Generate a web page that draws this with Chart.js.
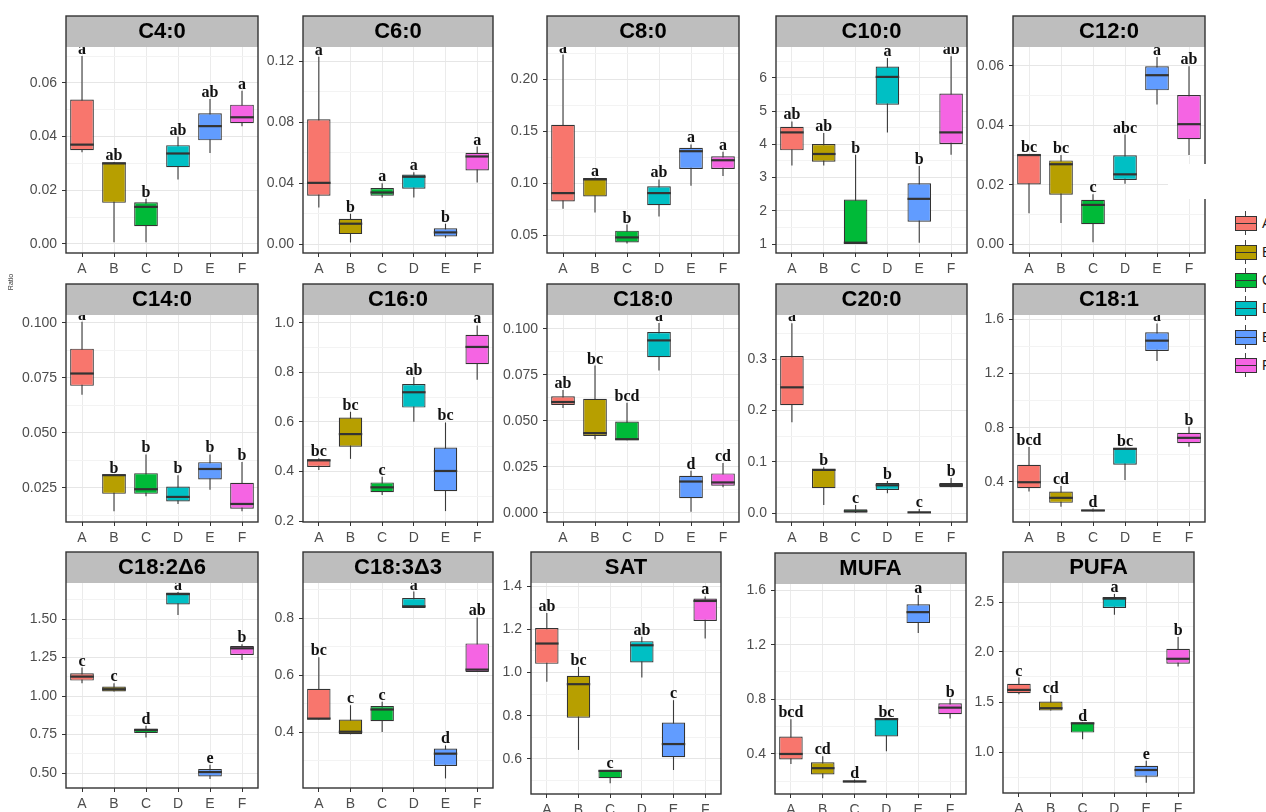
<!DOCTYPE html>
<html><head><meta charset="utf-8">
<script src="https://cdn.jsdelivr.net/npm/chart.js@4"></script>
<style>
html,body{margin:0;padding:0;background:#fff;overflow:hidden;width:1266px;height:812px;}
#wrap{position:relative;width:1266px;height:812px;overflow:hidden;background:#fff;}
#wrap canvas{position:absolute;}
.lg{position:absolute;box-sizing:border-box;}
</style></head><body><div id="wrap"></div>
<script>
// ---------- DATA ----------
const groups = ['A','B','C','D','E','F'];
const groupColors = ['#F8766D','#B79F00','#00BA38','#00BFC4','#619CFF','#F564E3'];

// each entry: [lower whisker, Q1, median, Q3, upper whisker] for A..F
const c4_0 = [[0.0342,0.0349,0.0370,0.0538,0.0700],[0.0006,0.0153,0.0300,0.0304,0.0305],[0.0006,0.0066,0.0138,0.0155,0.0168],[0.0240,0.0286,0.0337,0.0368,0.0400],[0.0339,0.0386,0.0439,0.0487,0.0540],[0.0439,0.0450,0.0472,0.0519,0.0571]];
const c4_0_letters = ['a','ab','b','ab','ab','a'];
const c4_0_ticks = ['0.00','0.02','0.04','0.06'];

const c6_0 = [[0.0240,0.0316,0.0401,0.0818,0.1228],[0.0010,0.0065,0.0133,0.0166,0.0199],[0.0305,0.0316,0.0338,0.0367,0.0399],[0.0305,0.0362,0.0441,0.0456,0.0471],[0.0041,0.0050,0.0076,0.0103,0.0133],[0.0404,0.0482,0.0574,0.0598,0.0639]];
const c6_0_letters = ['a','b','a','a','b','a'];
const c6_0_ticks = ['0.00','0.04','0.08','0.12'];

const c8_0 = [[0.0752,0.0823,0.0903,0.1561,0.2235],[0.0716,0.0871,0.1035,0.1048,0.1050],[0.0419,0.0429,0.0477,0.0542,0.0600],[0.0677,0.0787,0.0903,0.0968,0.1035],[0.0974,0.1135,0.1306,0.1339,0.1371],[0.1068,0.1135,0.1219,0.1258,0.1300]];
const c8_0_letters = ['a','a','b','ab','a','a'];
const c8_0_ticks = ['0.05','0.10','0.15','0.20'];

const c10_0 = [[3.36,3.82,4.36,4.53,4.69],[3.36,3.48,3.71,4.01,4.34],[1.00,1.00,1.04,2.34,3.69],[4.36,5.19,6.03,6.34,6.60],[1.04,1.67,2.36,2.83,3.35],[3.69,4.01,4.36,5.53,6.65]];
const c10_0_letters = ['ab','ab','b','a','b','ab'];
const c10_0_ticks = ['1','2','3','4','5','6'];

const c12_0 = [[0.0104,0.0201,0.0300,0.0302,0.0302],[0.0071,0.0166,0.0269,0.0282,0.0300],[0.0006,0.0067,0.0132,0.0149,0.0168],[0.0203,0.0216,0.0235,0.0299,0.0369],[0.0470,0.0518,0.0569,0.0599,0.0630],[0.0300,0.0353,0.0404,0.0502,0.0599]];
const c12_0_letters = ['bc','bc','c','abc','a','ab'];
const c12_0_ticks = ['0.00','0.02','0.04','0.06'];

const c14_0 = [[0.0674,0.0714,0.0770,0.0883,0.1005],[0.0144,0.0223,0.0308,0.0310,0.0310],[0.0212,0.0223,0.0244,0.0317,0.0402],[0.0177,0.0188,0.0209,0.0256,0.0308],[0.0242,0.0288,0.0336,0.0367,0.0402],[0.0144,0.0155,0.0177,0.0273,0.0368]];
const c14_0_letters = ['a','b','b','b','b','b'];
const c14_0_ticks = ['0.025','0.050','0.075','0.100'];

const c16_0 = [[0.406,0.418,0.445,0.449,0.453],[0.451,0.500,0.551,0.618,0.641],[0.305,0.316,0.336,0.356,0.379],[0.601,0.658,0.720,0.753,0.782],[0.240,0.320,0.402,0.497,0.598],[0.771,0.833,0.903,0.952,0.990]];
const c16_0_letters = ['bc','bc','c','ab','bc','a'];
const c16_0_ticks = ['0.2','0.4','0.6','0.8','1.0'];

const c18_0 = [[0.0570,0.0587,0.0603,0.0634,0.0668],[0.0401,0.0419,0.0434,0.0621,0.0801],[0.0395,0.0395,0.0401,0.0497,0.0599],[0.0774,0.0847,0.0938,0.0984,0.1033],[0.0007,0.0080,0.0171,0.0202,0.0230],[0.0140,0.0148,0.0166,0.0215,0.0271]];
const c18_0_letters = ['ab','bc','bcd','a','d','cd'];
const c18_0_ticks = ['0.000','0.025','0.050','0.075','0.100'];

const c20_0 = [[0.177,0.210,0.245,0.306,0.370],[0.0157,0.0483,0.0841,0.0861,0.0894],[0.0,0.0,0.0033,0.0072,0.0157],[0.0385,0.0450,0.0541,0.0587,0.0626],[0.0,0.0,0.0013,0.0026,0.0078],[0.0502,0.0502,0.0548,0.0587,0.0685]];
const c20_0_letters = ['a','b','c','b','c','b'];
const c20_0_ticks = ['0.0','0.1','0.2','0.3'];

const c18_1 = [[0.329,0.354,0.398,0.527,0.657],[0.217,0.246,0.283,0.329,0.371],[0.183,0.185,0.190,0.195,0.204],[0.415,0.527,0.644,0.652,0.652],[1.292,1.365,1.441,1.502,1.568],[0.659,0.686,0.725,0.762,0.806]];
const c18_1_letters = ['bcd','cd','d','bc','a','b'];
const c18_1_ticks = ['0.4','0.8','1.2','1.6'];

const c18_2d6 = [[1.083,1.100,1.126,1.148,1.185],[1.029,1.029,1.044,1.062,1.083],[0.731,0.759,0.779,0.789,0.807],[1.526,1.595,1.662,1.673,1.675],[0.461,0.478,0.506,0.526,0.554],[1.234,1.267,1.310,1.325,1.336]];
const c18_2d6_letters = ['c','c','d','a','e','b'];
const c18_2d6_ticks = ['0.50','0.75','1.00','1.25','1.50'];

const c18_3d3 = [[0.444,0.444,0.447,0.552,0.662],[0.392,0.392,0.401,0.444,0.494],[0.400,0.438,0.479,0.491,0.506],[0.835,0.835,0.841,0.870,0.893],[0.237,0.281,0.324,0.342,0.353],[0.611,0.611,0.619,0.711,0.802]];
const c18_3d3_letters = ['bc','c','c','a','d','ab'];
const c18_3d3_ticks = ['0.4','0.6','0.8'];

const sat = [[0.957,1.040,1.134,1.206,1.275],[0.642,0.791,0.946,0.985,1.026],[0.488,0.511,0.545,0.549,0.549],[0.977,1.046,1.126,1.145,1.165],[0.549,0.608,0.669,0.769,0.872],[1.157,1.238,1.331,1.342,1.352]];
const sat_letters = ['ab','bc','c','ab','c','a'];
const sat_ticks = ['0.6','0.8','1.0','1.2','1.4'];

const mufa = [[0.327,0.359,0.400,0.528,0.655],[0.223,0.250,0.296,0.339,0.383],[0.191,0.191,0.199,0.206,0.213],[0.419,0.528,0.655,0.659,0.659],[1.285,1.358,1.438,1.496,1.564],[0.659,0.691,0.739,0.771,0.805]];
const mufa_letters = ['bcd','cd','d','bc','a','b'];
const mufa_ticks = ['0.4','0.8','1.2','1.6'];

const pufa = [[1.578,1.588,1.621,1.682,1.745],[1.414,1.414,1.438,1.505,1.571],[1.127,1.194,1.287,1.294,1.294],[2.373,2.440,2.534,2.550,2.580],[0.693,0.753,0.820,0.863,0.913],[1.855,1.882,1.932,2.032,2.149]];
const pufa_letters = ['c','cd','d','a','e','b'];
const pufa_ticks = ['1.0','1.5','2.0','2.5'];

// ---------- LAYOUT (plot rect [left, top, right, bottom], y range) ----------
const panels = [
 {title:'C4:0',   boxes:c4_0,   letters:c4_0_letters,   ticks:c4_0_ticks,   rect:[66,47,258,253],   range:[-0.0034,0.0734]},
 {title:'C6:0',   boxes:c6_0,   letters:c6_0_letters,   ticks:c6_0_ticks,   rect:[303,47,493,253],  range:[-0.0059,0.1292]},
 {title:'C8:0',   boxes:c8_0,   letters:c8_0_letters,   ticks:c8_0_ticks,   rect:[547,47,739,253],  range:[0.0327,0.2308]},
 {title:'C10:0',  boxes:c10_0,  letters:c10_0_letters,  ticks:c10_0_ticks,  rect:[776,47,967,253],  range:[0.73,6.93]},
 {title:'C12:0',  boxes:c12_0,  letters:c12_0_letters,  ticks:c12_0_ticks,  rect:[1013,47,1205,253],range:[-0.003,0.0664]},
 {title:'C14:0',  boxes:c14_0,  letters:c14_0_letters,  ticks:c14_0_ticks,  rect:[66,315,258,522],  range:[0.0095,0.1036]},
 {title:'C16:0',  boxes:c16_0,  letters:c16_0_letters,  ticks:c16_0_ticks,  rect:[303,315,493,522], range:[0.196,1.032]},
 {title:'C18:0',  boxes:c18_0,  letters:c18_0_letters,  ticks:c18_0_ticks,  rect:[547,315,739,522], range:[-0.0049,0.1076]},
 {title:'C20:0',  boxes:c20_0,  letters:c20_0_letters,  ticks:c20_0_ticks,  rect:[776,315,967,522], range:[-0.0175,0.386]},
 {title:'C18:1',  boxes:c18_1,  letters:c18_1_letters,  ticks:c18_1_ticks,  rect:[1013,315,1205,522],range:[0.105,1.63]},
 {title:'C18:2Δ6',boxes:c18_2d6,letters:c18_2d6_letters,ticks:c18_2d6_ticks,rect:[66,583,258,788],  range:[0.4026,1.734]},
 {title:'C18:3Δ3',boxes:c18_3d3,letters:c18_3d3_letters,ticks:c18_3d3_ticks,rect:[303,583,493,788], range:[0.2035,0.923]},
 {title:'SAT',    boxes:sat,    letters:sat_letters,    ticks:sat_ticks,    rect:[531,583,721,794], range:[0.438,1.414]},
 {title:'MUFA',   boxes:mufa,   letters:mufa_letters,   ticks:mufa_ticks,   rect:[775,584,966,794], range:[0.107,1.644]},
 {title:'PUFA',   boxes:pufa,   letters:pufa_letters,   ticks:pufa_ticks,   rect:[1003,583,1194,793],range:[0.59,2.69]}
];
const legendY = [223,252,280,308,337,365];

const wrap = document.getElementById('wrap');
const YW = 60, S = 31, PT = 1, PR = 4, XH = 30;
const FONT = 'Liberation Sans';

function makePlugin(p){
  return {
    id:'boxplot',
    beforeDraw(chart){
      const c = chart.ctx, a = chart.chartArea, t = chart.titleBlock;
      c.save();
      c.fillStyle = '#BEBEBE';
      c.fillRect(a.left, t.top, a.right - a.left, a.top - t.top);
      c.restore();
    },
    beforeDatasetsDraw(chart){
      const c = chart.ctx, meta = chart.getDatasetMeta(0), y = chart.scales.y;
      c.save();
      c.strokeStyle = '#3a3a3a'; c.lineWidth = 1.1;
      p.boxes.forEach((b,i)=>{
        const el = meta.data[i];
        c.beginPath();
        c.moveTo(el.x, y.getPixelForValue(b[0]));
        c.lineTo(el.x, y.getPixelForValue(b[4]));
        c.stroke();
      });
      c.restore();
    },
    afterDatasetsDraw(chart){
      const c = chart.ctx, meta = chart.getDatasetMeta(0), y = chart.scales.y, a = chart.chartArea;
      c.save();
      c.strokeStyle = '#333'; c.lineWidth = 2.2;
      p.boxes.forEach((b,i)=>{
        const el = meta.data[i], w = el.width;
        const py = y.getPixelForValue(b[2]);
        c.beginPath(); c.moveTo(el.x - w/2, py); c.lineTo(el.x + w/2, py); c.stroke();
      });
      c.beginPath(); c.rect(a.left, a.top, a.right - a.left, a.bottom - a.top); c.clip();
      c.fillStyle = '#111';
      c.font = 'bold 16px "Liberation Serif"';
      c.textAlign = 'center'; c.textBaseline = 'alphabetic';
      p.boxes.forEach((b,i)=>{
        const el = meta.data[i];
        c.fillText(p.letters[i], el.x, y.getPixelForValue(b[4]) - 2);
      });
      c.restore();
    },
    afterDraw(chart){
      const c = chart.ctx, a = chart.chartArea, t = chart.titleBlock;
      c.save();
      c.strokeStyle = '#333'; c.lineWidth = 1.4;
      c.strokeRect(a.left, t.top, a.right - a.left, a.bottom - t.top);
      c.restore();
    }
  };
}

function makeChart(p){
  const [L,T,R,B] = p.rect;
  const w = YW + (R - L) + PR, h = PT + S + (B - T) + XH;
  const cv = document.createElement('canvas');
  cv.width = w; cv.height = h;
  cv.style.left = (L - YW) + 'px'; cv.style.top = (T - S - PT) + 'px';
  cv.style.width = w + 'px'; cv.style.height = h + 'px';
  wrap.appendChild(cv);

  const majors = p.ticks.map(Number);
  const step = majors[1] - majors[0];
  const tickObjs = majors.map(v => ({value:v, minor:false}));
  for (let k = -1; k < majors.length + 1; k++) {
    const v = +(majors[0] + (k + 0.5) * step).toFixed(6);
    if (v > p.range[0] && v < p.range[1]) tickObjs.push({value:v, minor:true});
  }
  tickObjs.sort((a,b) => a.value - b.value);

  new Chart(cv, {
    type:'bar',
    data:{
      labels:groups,
      datasets:[{
        data:p.boxes.map(b => [b[1], b[3]]),
        backgroundColor:groupColors,
        borderColor:'#333', borderWidth:1.2, borderSkipped:false,
        barPercentage:0.74, categoryPercentage:1
      }]
    },
    options:{
      responsive:false, animation:false, devicePixelRatio:1,
      layout:{padding:{top:PT, right:PR, left:0, bottom:0}},
      plugins:{
        legend:{display:false}, tooltip:{enabled:false},
        title:{display:true, text:p.title, fullSize:false, color:'#000',
          font:{family:FONT, size:22, weight:'bold', lineHeight:'26px'},
          padding:{top:3, bottom:2}}
      },
      scales:{
        x:{
          offset:true,
          grid:{offset:false, color:'#EBEBEB', lineWidth:1, tickColor:'#333', tickLength:4},
          border:{display:false},
          ticks:{color:'#4D4D4D', font:{family:FONT, size:14}, padding:4, maxRotation:0},
          afterFit:s => { s.height = XH; }
        },
        y:{
          min:p.range[0], max:p.range[1],
          afterBuildTicks:s => { s.ticks = tickObjs.map(t => ({value:t.value, minor:t.minor})); },
          grid:{
            color:c => (c.tick && c.tick.minor) ? '#F3F3F3' : '#E6E6E6',
            tickColor:c => (c.tick && c.tick.minor) ? 'rgba(0,0,0,0)' : '#333',
            tickLength:4, lineWidth:1
          },
          border:{display:false},
          ticks:{
            autoSkip:false, color:'#4D4D4D', font:{family:FONT, size:14}, padding:5,
            callback:(v,i,ts) => {
              if (ts[i] && ts[i].minor) return '';
              const idx = majors.findIndex(m => Math.abs(m - v) < 1e-9);
              return idx >= 0 ? p.ticks[idx] : '';
            }
          },
          afterFit:s => { s.width = YW; }
        }
      }
    },
    plugins:[makePlugin(p)]
  });
}

panels.forEach(makeChart);

// white patch present in the reference (C12:0 panel)
const patch = document.createElement('div');
patch.className = 'lg';
patch.style.cssText = 'left:1168px;top:164px;width:44px;height:35px;background:#fff;';
wrap.appendChild(patch);

// legend
groups.forEach((g,i) => {
  const cy = legendY[i];
  const wh = document.createElement('div'); wh.className = 'lg';
  wh.style.cssText = `left:1245px;top:${cy-12}px;width:1px;height:24px;background:#444;`;
  const bx = document.createElement('div'); bx.className = 'lg';
  bx.style.cssText = `left:1235px;top:${cy-7}px;width:22px;height:15px;background:${groupColors[i]};border:1.2px solid #333;`;
  const md = document.createElement('div'); md.className = 'lg';
  md.style.cssText = `left:1235px;top:${cy-0.5}px;width:22px;height:1.6px;background:#333;`;
  const lb = document.createElement('div'); lb.className = 'lg';
  lb.style.cssText = `left:1262px;top:${cy-9}px;font:14px "${FONT}";color:#1A1A1A;line-height:18px;`;
  lb.textContent = g;
  [wh,bx,md,lb].forEach(e => wrap.appendChild(e));
});

// cut-off y-axis title at far left (only a sliver visible in the reference)
const yt = document.createElement('div'); yt.className = 'lg';
yt.style.cssText = `left:-9px;top:278px;width:40px;text-align:center;font:7px "${FONT}";color:#333;transform:rotate(-90deg);line-height:8px;`;
yt.textContent = 'Ratio';
wrap.appendChild(yt);
</script>
</body></html>
